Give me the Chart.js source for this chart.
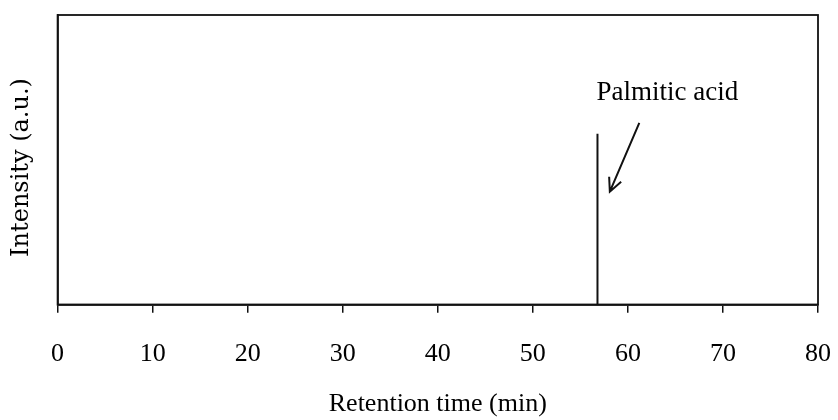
<!DOCTYPE html>
<html>
<head>
<meta charset="utf-8">
<script src="https://cdn.jsdelivr.net/npm/chart.js@4.4.1/dist/chart.umd.min.js"></script>
<style>
  html, body { margin: 0; padding: 0; background: #ffffff; }
  #wrap { width: 838px; height: 420px; position: relative; }
</style>
</head>
<body>
<div id="wrap"><canvas id="c"></canvas></div>
<script>
// Data
const retentionTimes = [0, 56.8, 56.8, 56.8, 80];   // minutes
const intensities    = [0, 0, 59, 0, 0];             // arbitrary units (0-100 scale)
const xTicks = [0, 10, 20, 30, 40, 50, 60, 70, 80];
const peakLabel = "Palmitic acid";
const labelPos = [56.7, 73];          // data coords of label (left, middle)
const arrowFrom = [61.2, 62.8];       // data coords
const arrowTo = [58.1, 39.0];         // data coords (arrow head)

const serif = "'Liberation Serif', 'Times New Roman', serif";

const boxAndAnnotation = {
  id: 'boxAndAnnotation',
  afterDatasetsDraw(chart) {
    const {ctx, chartArea: a, scales: {x, y}} = chart;
    ctx.save();
    ctx.strokeStyle = '#111';
    ctx.lineWidth = 1.8;
    ctx.strokeRect(a.left, a.top, a.right - a.left, a.bottom - a.top);
    // label
    ctx.fillStyle = '#000';
    ctx.font = "27px " + serif;
    ctx.textAlign = 'left';
    ctx.textBaseline = 'middle';
    ctx.fillText(peakLabel, x.getPixelForValue(labelPos[0]), y.getPixelForValue(labelPos[1]));
    // arrow
    const x1 = x.getPixelForValue(arrowFrom[0]), y1 = y.getPixelForValue(arrowFrom[1]);
    const x2 = x.getPixelForValue(arrowTo[0]), y2 = y.getPixelForValue(arrowTo[1]);
    ctx.lineWidth = 2;
    ctx.beginPath();
    ctx.moveTo(x1, y1); ctx.lineTo(x2, y2);
    const ang = Math.atan2(y2 - y1, x2 - x1);
    const hl = 15, spread = 0.45;
    ctx.moveTo(x2 - hl * Math.cos(ang - spread), y2 - hl * Math.sin(ang - spread));
    ctx.lineTo(x2, y2);
    ctx.lineTo(x2 - hl * Math.cos(ang + spread), y2 - hl * Math.sin(ang + spread));
    ctx.stroke();
    ctx.restore();
  }
};

new Chart(document.getElementById('c'), {
  type: 'line',
  data: {
    datasets: [{
      data: retentionTimes.map((t, i) => ({x: t, y: intensities[i]})),
      borderColor: '#111',
      borderWidth: 2,
      pointRadius: 0,
      tension: 0,
      fill: false
    }]
  },
  options: {
    responsive: true,
    maintainAspectRatio: false,
    animation: false,
    events: [],
    layout: { padding: { left: 0, right: 20, top: 15, bottom: 0 } },
    plugins: { legend: { display: false }, tooltip: { enabled: false } },
    scales: {
      x: {
        type: 'linear',
        min: 0, max: 80,
        afterBuildTicks(scale) { scale.ticks = xTicks.map(v => ({value: v})); },
        grid: { drawOnChartArea: false, drawTicks: true, tickLength: 8, color: '#111', lineWidth: 1.5 },
        border: { display: true, color: '#111', width: 1.8 },
        ticks: { color: '#000', padding: 4, maxRotation: 0, font: { family: serif, size: 26, lineHeight: 2.846 } },
        title: { display: true, text: 'Retention time (min)', color: '#000',
                 font: { family: serif, size: 26, lineHeight: 0.75 }, padding: { top: 0, bottom: 5.8 } }
      },
      y: {
        type: 'linear',
        min: 0, max: 100,
        grid: { display: false },
        border: { display: true, color: '#111', width: 1.8 },
        ticks: { display: false },
        title: { display: true, text: 'Intensity (a.u.)  ', color: '#000',
                 font: { family: "'DejaVu Serif', serif", size: 24 }, padding: { top: 7.6, bottom: 13.2 } }
      }
    }
  },
  plugins: [boxAndAnnotation]
});
</script>
</body>
</html>
